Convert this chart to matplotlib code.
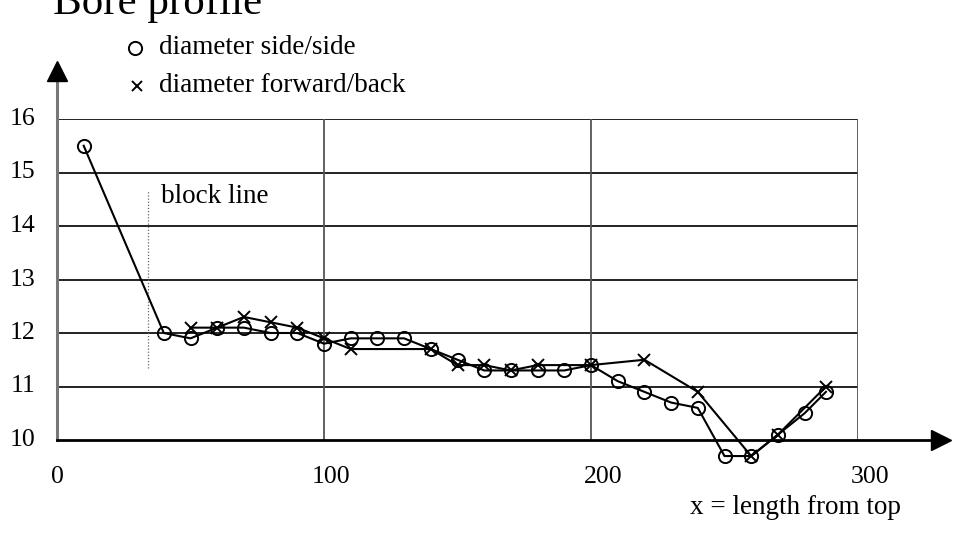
"""Bore profile: two diameter series along the bore length."""

import matplotlib
matplotlib.use("Agg")
import matplotlib.pyplot as plt

plt.rcParams["font.family"] = ["Liberation Serif", "DejaVu Serif"]

# diameter side/side (circles)
side_x = [10, 40, 50, 60, 70, 80, 90, 100, 110, 120, 130, 140, 150, 160, 170,
          180, 190, 200, 210, 220, 230, 240, 250, 260, 270, 280, 288]
side_d = [15.5, 12.0, 11.9, 12.1, 12.1, 12.0, 12.0, 11.8, 11.9, 11.9, 11.9,
          11.7, 11.5, 11.3, 11.3, 11.3, 11.3, 11.4, 11.1, 10.9, 10.7, 10.6,
          9.7, 9.7, 10.1, 10.5, 10.9]

# diameter forward/back (crosses)
fwd_x = [50, 60, 70, 80, 90, 100, 110, 140, 150, 160, 170, 180, 200, 220,
         240, 260, 270, 288]
fwd_d = [12.1, 12.1, 12.3, 12.2, 12.1, 11.9, 11.7, 11.7, 11.4, 11.4, 11.3,
         11.4, 11.4, 11.5, 10.9, 9.7, 10.1, 11.0]

y_ticks = [10, 11, 12, 13, 14, 15, 16]
x_ticks = [0, 100, 200, 300]
x_label_pos = [0, 102.5, 204.5, 304.5]

block_x = 34
block_span = (11.35, 14.67)

W, H = 966, 541
fig = plt.figure(figsize=(W / 100, H / 100), dpi=100)
fig.patch.set_facecolor("white")
ax = fig.add_axes([57 / W, (H - 440) / H, (858 - 57) / W, (440 - 119) / H])
ax.set_xlim(0, 300)
ax.set_ylim(10, 16)
for s in ax.spines.values():
    s.set_visible(False)
ax.set_xticks([])
ax.set_yticks([])

# grid: horizontal lines and vertical lines at 100/200/300
for y in y_ticks[1:]:
    ax.plot([0, 300], [y, y], color="#111111", lw=1.3, zorder=1)
for x in x_ticks[1:]:
    ax.plot([x, x], [10, 16], color="#555555", lw=1.3, zorder=1)

# axes with arrowheads
ax.plot([0, 0], [10, 16.85], color="#777777", lw=2.2, clip_on=False, zorder=2)
ax.plot([0], [16.9], marker="^", ms=14, color="black", clip_on=False, zorder=3)
ax.plot([0, 328], [10, 10], color="black", lw=2, clip_on=False, zorder=2)
ax.plot([331], [10], marker=">", ms=14, color="black", clip_on=False, zorder=3)

# tick labels
for y in y_ticks:
    ax.text(-8, y, str(y), ha="right", va="center", fontsize=18.5)
for pos, lab in zip(x_label_pos, x_ticks):
    ax.text(pos, 9.3, str(lab), ha="center", va="center", fontsize=18.5)
ax.text(316, 8.74, "x = length from top", ha="right", va="center", fontsize=19.5)

# block line
ax.plot([block_x, block_x], block_span, color="#666666", lw=0.9, ls=(0, (1, 1.5)))
ax.text(39, 14.55, "block line", ha="left", va="center", fontsize=19.5)

# data series
ax.plot(side_x, side_d, color="black", lw=1.5, marker="o", ms=9.5,
        mfc="none", mec="black", mew=1.4, clip_on=False, zorder=4)
ax.plot(fwd_x, fwd_d, color="black", lw=1.5, marker="x", ms=8,
        mec="black", mew=1.4, clip_on=False, zorder=4)

# title and legend
fig.text(53 / W, (H - 14) / H, "Bore profile", ha="left", va="baseline", fontsize=31)
fig.lines.append(plt.Line2D([135 / W], [(H - 48) / H], marker="o", ms=9.5,
                            mfc="none", mec="black", mew=1.4,
                            transform=fig.transFigure))
fig.lines.append(plt.Line2D([137 / W], [(H - 86) / H], marker="x", ms=7.5,
                            mec="black", mew=1.4, transform=fig.transFigure))
fig.text(159 / W, (H - 47) / H, "diameter side/side", ha="left", va="center", fontsize=19.5)
fig.text(159 / W, (H - 85) / H, "diameter forward/back", ha="left", va="center", fontsize=19.5)

fig.savefig("out.png", dpi=100)
